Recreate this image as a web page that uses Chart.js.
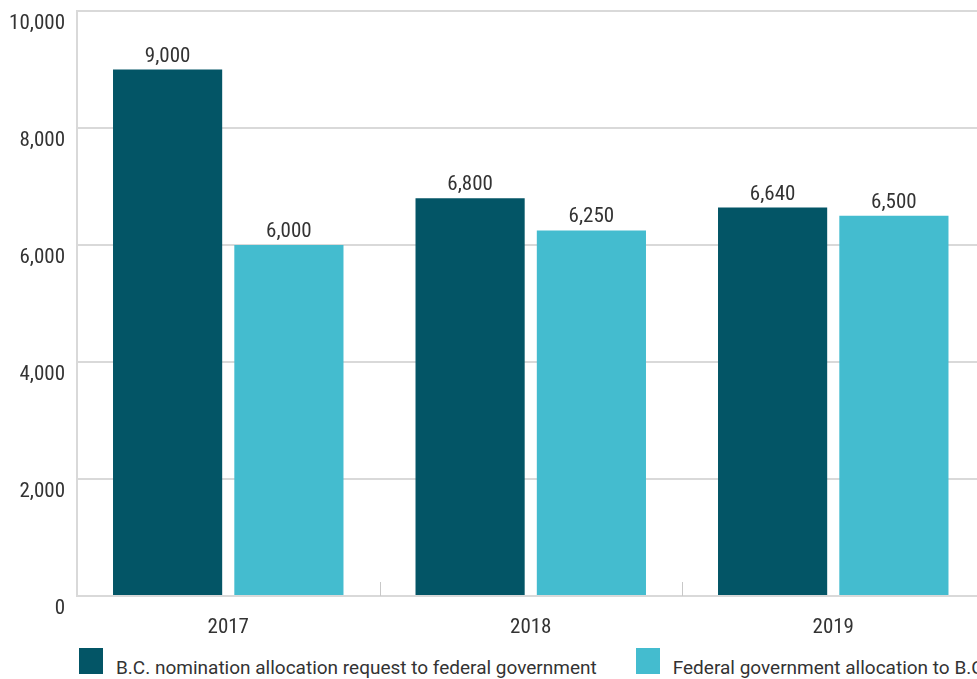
<!DOCTYPE html>
<html>
<head>
<meta charset="utf-8">
<script src="https://cdn.jsdelivr.net/npm/chart.js@4.4.1/dist/chart.umd.min.js"></script>
<style>
  html, body { margin: 0; padding: 0; width: 977px; height: 679px; overflow: hidden; background: #ffffff; }
  #wrap { position: absolute; left: 0; top: 0; width: 990px; height: 640px; }
  #legend { position: absolute; left: 79px; top: 648px; white-space: nowrap; line-height: 1;
            font-family: Roboto, 'Liberation Sans', sans-serif; font-size: 19px; color: #333333; }
  .item { display: inline-block; }
  .item + .item { margin-left: 39px; }
  .box { display: inline-block; width: 24px; height: 26px; margin-right: 13px; }
</style>
</head>
<body>
<div id="wrap"><canvas id="c"></canvas></div>
<div id="legend"></div>
<script>
const categories = ['2017', '2018', '2019'];
const bcRequest = [9000, 6800, 6640];
const federalAllocation = [6000, 6250, 6500];
const seriesLabels = [
  'B.C. nomination allocation request to federal government',
  'Federal government allocation to B.C.'
];
const seriesColors = ['#035566', '#44bccf'];
const yTickValues = [0, 2000, 4000, 6000, 8000, 10000];

const TEXT = '#333333';
const GRID = '#d9d9d9';
const tickFont = { family: "'Liberation Sans Narrow', 'Roboto Condensed', Roboto, sans-serif", size: 21 };
const fmt = v => Number(v).toLocaleString('en-US');

const valueLabels = {
  id: 'valueLabels',
  afterDatasetsDraw(chart) {
    const ctx = chart.ctx;
    ctx.save();
    ctx.fillStyle = TEXT;
    ctx.textAlign = 'center';
    ctx.textBaseline = 'alphabetic';
    ctx.font = `${tickFont.size}px ${tickFont.family}`;
    chart.data.datasets.forEach((ds, di) => {
      chart.getDatasetMeta(di).data.forEach((bar, i) => {
        ctx.fillText(fmt(ds.data[i]), bar.x, bar.y - 8);
      });
    });
    ctx.restore();
  }
};

const categoryDividers = {
  id: 'categoryDividers',
  beforeDatasetsDraw(chart) {
    const x = chart.scales.x, area = chart.chartArea, ctx = chart.ctx;
    ctx.save();
    ctx.strokeStyle = '#c8c8c8';
    ctx.lineWidth = 1;
    for (let i = 0; i < categories.length - 1; i++) {
      const px = Math.round((x.getPixelForValue(i) + x.getPixelForValue(i + 1)) / 2) + 0.5;
      ctx.beginPath();
      ctx.moveTo(px, area.bottom - 14);
      ctx.lineTo(px, area.bottom);
      ctx.stroke();
    }
    ctx.restore();
  }
};

const chart = new Chart(document.getElementById('c'), {
  type: 'bar',
  data: {
    labels: categories,
    datasets: [
      { label: seriesLabels[0], data: bcRequest, backgroundColor: seriesColors[0] },
      { label: seriesLabels[1], data: federalAllocation, backgroundColor: seriesColors[1] }
    ]
  },
  options: {
    responsive: true,
    maintainAspectRatio: false,
    animation: false,
    layout: { padding: { left: 0, top: 11, right: 5.5, bottom: 0 } },
    datasets: { bar: { barPercentage: 0.9, categoryPercentage: 0.802 } },
    plugins: {
      legend: { display: false },
      tooltip: { enabled: false }
    },
    scales: {
      x: {
        offset: true,
        grid: { display: false },
        border: { display: false },
        ticks: { color: TEXT, font: tickFont, padding: 11 },
        afterFit(s) { s.height = 44; }
      },
      y: {
        min: 0,
        max: 10000,
        afterBuildTicks(s) { s.ticks = yTickValues.map(v => ({ value: v })); },
        grid: { color: GRID, lineWidth: 2, drawTicks: false },
        border: { color: GRID, width: 2 },
        ticks: { color: TEXT, font: tickFont, padding: 12, labelOffset: 13, callback: v => fmt(v) },
        afterFit(s) { s.width = 77; s.paddingTop = 0; s.paddingBottom = 0; }
      }
    }
  },
  plugins: [categoryDividers, valueLabels]
});

// HTML legend built from the chart's datasets
const legendEl = document.getElementById('legend');
chart.data.datasets.forEach(ds => {
  const item = document.createElement('span');
  item.className = 'item';
  const box = document.createElement('span');
  box.className = 'box';
  box.style.background = ds.backgroundColor;
  item.appendChild(box);
  item.appendChild(document.createTextNode(ds.label));
  legendEl.appendChild(item);
});
</script>
</body>
</html>
